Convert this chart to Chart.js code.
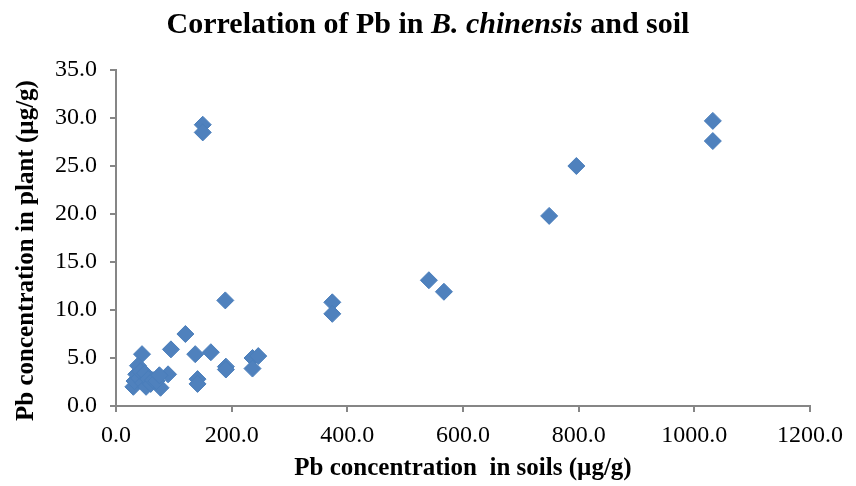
<!DOCTYPE html>
<html>
<head>
<meta charset="utf-8">
<script src="https://cdn.jsdelivr.net/npm/chart.js@4"></script>
<style>
  html, body { margin: 0; padding: 0; background: #fff; }
  #wrap { position: relative; width: 856px; height: 486px; }
  #title {
    position: absolute; left: 0; top: 6px; width: 856px; text-align: center;
    font-family: "Liberation Serif", "Times New Roman", serif;
    font-weight: bold; font-size: 30px; color: #000;
  }
  canvas { position: absolute; left: 0; top: 0; }
</style>
</head>
<body>
<div id="wrap">
  <canvas id="scatter-chart" width="856" height="486"></canvas>
  <div id="title">Correlation of Pb in <i>B. chinensis</i> and soil</div>
</div>
<script>
  // Pb in soil (x) vs Pb in plant (y)
  const soilPb = [
    150, 150, 1032, 1032, 796, 749, 541, 567, 374, 374,
    189, 120, 95, 45, 137, 164, 236, 246, 236, 190,
    190, 141, 141, 90, 77,
    30, 32, 35, 38, 40, 42, 47, 50, 52, 56, 60, 64, 70, 75
  ];
  const plantPb = [
    29.3, 28.5, 29.7, 27.6, 25.0, 19.8, 13.1, 11.9, 10.8, 9.6,
    11.0, 7.5, 5.9, 5.4, 5.4, 5.6, 5.0, 5.2, 3.9, 4.1,
    3.8, 2.8, 2.3, 3.3, 1.9,
    2.0, 2.6, 3.3, 4.2, 2.9, 3.6, 2.4, 3.4, 2.0, 2.8, 2.3, 2.7, 2.6, 3.2
  ];
  const xTicks = [0, 200, 400, 600, 800, 1000, 1200];
  const yTicks = [0, 5, 10, 15, 20, 25, 30, 35];

  const serif = '"Liberation Serif", "Times New Roman", serif';
  const axisGrey = '#868686';

  const points = soilPb.map((x, i) => ({ x: x, y: plantPb[i] }));

  const ctx = document.getElementById('scatter-chart').getContext('2d');
  const chart = new Chart(ctx, {
    type: 'scatter',
    data: {
      datasets: [{
        label: 'Pb',
        data: points,
        pointStyle: 'rectRot',
        pointRadius: 8.5,
        pointHoverRadius: 8.5,
        backgroundColor: '#4F81BD',
        borderColor: '#4A7EBB',
        borderWidth: 1
      }]
    },
    options: {
      responsive: false,
      animation: false,
      layout: { padding: { top: 70, right: 46, left: 0, bottom: 0 } },
      plugins: {
        legend: { display: false },
        tooltip: { enabled: false }
      },
      scales: {
        x: {
          type: 'linear',
          min: xTicks[0],
          max: xTicks[xTicks.length - 1],
          afterBuildTicks: (scale) => { scale.ticks = xTicks.map(v => ({ value: v })); },
          afterFit: (scale) => { scale.height = 80; },
          grid: { drawOnChartArea: false, drawTicks: true, tickLength: 6, color: axisGrey, lineWidth: 2 },
          border: { display: true, color: axisGrey, width: 2 },
          ticks: {
            color: '#000',
            padding: 9,
            font: { family: serif, size: 24 },
            callback: (v) => Number(v).toFixed(1)
          },
          title: {
            display: true,
            text: 'Pb concentration  in soils (\u00b5g/g)',
            color: '#000',
            font: { family: serif, size: 25, weight: 'bold' },
            padding: { top: 0, bottom: 2 }
          }
        },
        y: {
          type: 'linear',
          min: yTicks[0],
          max: yTicks[yTicks.length - 1],
          afterBuildTicks: (scale) => { scale.ticks = yTicks.map(v => ({ value: v })); },
          afterFit: (scale) => { scale.width = 116; },
          grid: { drawOnChartArea: false, drawTicks: true, tickLength: 6, color: axisGrey, lineWidth: 2 },
          border: { display: true, color: axisGrey, width: 2 },
          ticks: {
            color: '#000',
            padding: 13,
            font: { family: serif, size: 24 },
            callback: (v) => Number(v).toFixed(1)
          },
          title: {
            display: true,
            // trailing spaces nudge the rotated title down a little
            text: 'Pb concentration in plant (\u00b5g/g)    ',
            color: '#000',
            font: { family: serif, size: 25, weight: 'bold' },
            padding: { top: 12, bottom: 0 }
          }
        }
      }
    }
  });
</script>
</body>
</html>
